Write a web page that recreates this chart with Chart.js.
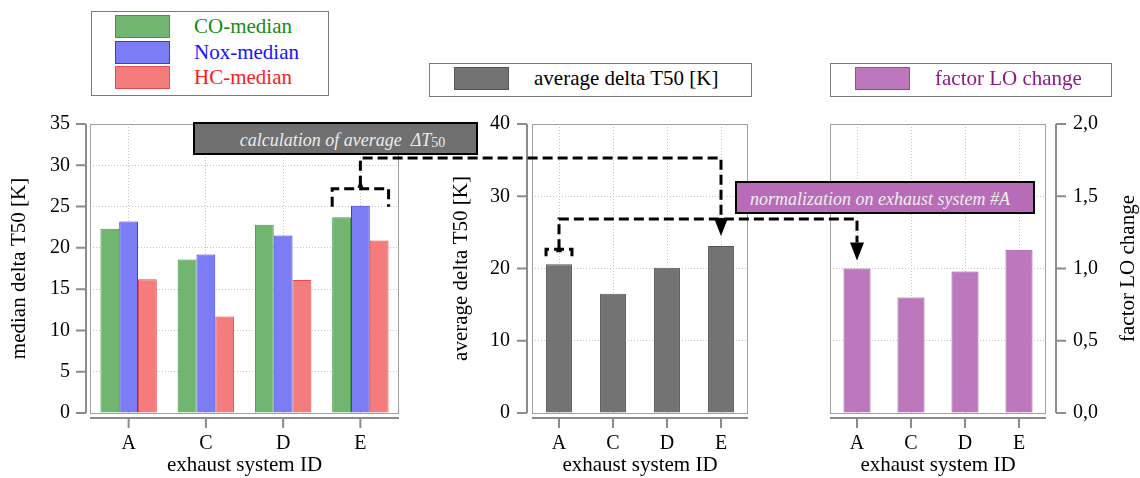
<!DOCTYPE html>
<html>
<head>
<meta charset="utf-8">
<script src="https://cdn.jsdelivr.net/npm/chart.js@4.4.1/dist/chart.umd.min.js"></script>
<style>
  body { margin:0; background:#fff; width:1140px; height:478px; position:relative; overflow:hidden;
         font-family:"Liberation Serif","Times New Roman",serif; }
  canvas.cv { position:absolute; top:110px; }
  #overlay { position:absolute; left:0; top:0; pointer-events:none; }
  .legend { position:absolute; border:1px solid #7a7a7a; background:#fff; box-sizing:border-box; }
  .legend .row { position:absolute; height:24px; }
  .legend .sw { position:absolute; left:0; top:0; width:55px; height:23px; box-sizing:border-box; border:1px solid; }
  .legend .tx { position:absolute; top:-3px; white-space:nowrap; font-size:21px; line-height:28px; }
  .note { position:absolute; box-sizing:border-box; border:2px solid #000; color:#ececec;
          font-style:italic; font-size:18px; display:flex; justify-content:center; align-items:flex-end;
          padding-bottom:2px; white-space:nowrap; }
  .note sub { font-size:14px; vertical-align:-3px; font-style:normal; }
</style>
</head>
<body>
<canvas id="c1" class="cv" width="420" height="368" style="left:0px"></canvas>
<canvas id="c2" class="cv" width="360" height="368" style="left:420px"></canvas>
<canvas id="c3" class="cv" width="360" height="368" style="left:780px"></canvas>
<canvas id="overlay" width="1140" height="478"></canvas>

<div class="legend" id="leg1" style="left:91px;top:11px;width:238px;height:85px;"></div>
<div class="legend" id="leg2" style="left:429px;top:63px;width:323px;height:34px;"></div>
<div class="legend" id="leg3" style="left:830px;top:63px;width:282px;height:34px;"></div>

<div class="note" style="left:193px;top:122px;width:285px;height:33px;background:#707070;padding-left:14px;">
  calculation of average&nbsp;&nbsp;&Delta;<i>T</i><sub>50</sub>
</div>
<div class="note" style="left:735px;top:181px;width:300px;height:33px;background:#b86cb8;padding-right:10px;">
  normalization on exhaust system #A
</div>

<script>
// categories and values
const systems = ['A', 'C', 'D', 'E'];
const coMedian  = [22.3, 18.6, 22.8, 23.7];
const noxMedian = [23.2, 19.2, 21.5, 25.1];
const hcMedian  = [16.2, 11.7, 16.1, 20.9];
const avgDelta  = [20.6, 16.5, 20.1, 23.1];
const factorLO  = [1.0, 0.80, 0.98, 1.13];

const medianLabels = ['CO-median', 'Nox-median', 'HC-median'];
const medianFill   = ['#70b670', '#7c7cf4', '#f57c7c'];
const medianEdge   = ['#3f9a3f', '#3a3ae0', '#e84a4a'];
const medianText   = ['#178a17', '#1414ff', '#ff1a1a'];

const FONT = '"Liberation Serif", "Times New Roman", serif';
const GRID = '#c4c4c4';
const INK = '#000';

// box around the plot area plus detached axis lines with outward ticks
const framePlugin = {
  id: 'frame',
  beforeDatasetsDraw(chart) {
    const { ctx, chartArea: a } = chart;
    ctx.save();
    ctx.strokeStyle = '#a0a0a0';
    ctx.lineWidth = 1;
    ctx.strokeRect(a.left + 0.5, a.top + 0.5, a.right - a.left - 1, a.bottom - a.top);
    ctx.restore();
  },
  afterDraw(chart, args, opts) {
    const { ctx, chartArea: a, scales } = chart;
    const ys = scales.y, xs = scales.x;
    ctx.save();
    ctx.strokeStyle = '#8c8c8c';
    ctx.lineWidth = 2;
    ctx.beginPath();
    const left = opts.side !== 'right';
    const ax = left ? a.left - opts.gap : a.right + opts.gap;
    ctx.moveTo(ax, a.top);
    ctx.lineTo(ax, a.bottom);
    ys.ticks.forEach((t, i) => {
      const y = ys.getPixelForTick(i);
      ctx.moveTo(ax, y);
      ctx.lineTo(left ? ax - 10 : ax + 10, y);
    });
    const ay = a.bottom + 5;
    ctx.moveTo(a.left, ay);
    ctx.lineTo(a.right, ay);
    xs.ticks.forEach((t, i) => {
      const x = xs.getPixelForTick(i);
      ctx.moveTo(x, ay);
      ctx.lineTo(x, ay + 10);
    });
    ctx.stroke();
    if (opts.rightTitle) {
      ctx.fillStyle = INK;
      ctx.font = '21px ' + FONT;
      ctx.textAlign = 'center';
      ctx.textBaseline = 'middle';
      ctx.translate(chart.width - 12, (a.top + a.bottom) / 2);
      ctx.rotate(-Math.PI / 2);
      ctx.fillText(opts.rightTitle, 0, 0);
    }
    ctx.restore();
  }
};

function buildOptions(cfg) {
  return {
    responsive: false,
    animation: false,
    layout: { padding: { left: cfg.padLeft, right: cfg.padRight, top: 14, bottom: 0 } },
    plugins: {
      legend: { display: false },
      tooltip: { enabled: false },
      frame: { side: cfg.side, gap: cfg.gap, rightTitle: cfg.rightTitle || null }
    },
    scales: {
      x: {
        offset: true,
        grid: { offset: false, color: GRID, drawTicks: false },
        border: { display: false, dash: [1, 2] },
        ticks: { padding: 19, color: INK, font: { family: FONT, size: 20 } },
        title: { display: true, text: 'exhaust system ID', color: INK,
                 font: { family: FONT, size: 21 }, padding: { top: 0, bottom: 0 } },
        afterFit: s => { s.height = 65; }
      },
      y: {
        position: cfg.side,
        min: 0, max: cfg.max,
        // invisible tick marks give the label gap without inflating the top margin
        grid: { color: GRID, drawTicks: true, tickLength: cfg.tickPad, tickColor: 'rgba(0,0,0,0)' },
        border: { display: false, dash: [1, 2] },
        ticks: { stepSize: cfg.step, padding: 0, color: INK,
                 font: { family: FONT, size: 20 }, callback: cfg.fmt },
        title: { display: !!cfg.title, text: cfg.title || '', color: INK,
                 font: { family: FONT, size: 21 }, padding: { top: 0, bottom: 0 } },
        afterFit: s => { s.width = cfg.axisWidth; }
      }
    }
  };
}

function init() {
  const c1 = new Chart(document.getElementById('c1'), {
    type: 'bar',
    data: {
      labels: systems,
      datasets: [coMedian, noxMedian, hcMedian].map((vals, i) => ({
        label: medianLabels[i],
        data: vals,
        backgroundColor: medianFill[i],
        borderColor: medianEdge[i],
        borderWidth: 1,
        categoryPercentage: 0.73,
        barPercentage: 1.0
      }))
    },
    options: buildOptions({ padLeft: 7, padRight: 21, axisWidth: 83, side: 'left', gap: 4,
                            max: 35, step: 5, tickPad: 20, title: 'median delta T50 [K]' }),
    plugins: [framePlugin]
  });

  const c2 = new Chart(document.getElementById('c2'), {
    type: 'bar',
    data: {
      labels: systems,
      datasets: [{
        label: 'average delta T50 [K]',
        data: avgDelta,
        backgroundColor: '#737373',
        borderColor: '#555555',
        borderWidth: 1,
        categoryPercentage: 0.48,
        barPercentage: 1.0
      }]
    },
    options: buildOptions({ padLeft: 29, padRight: 32, axisWidth: 83, side: 'left', gap: 5,
                            max: 40, step: 10, tickPad: 22, title: 'average delta T50 [K]' }),
    plugins: [framePlugin]
  });

  const c3 = new Chart(document.getElementById('c3'), {
    type: 'bar',
    data: {
      labels: systems,
      datasets: [{
        label: 'factor LO change',
        data: factorLO,
        backgroundColor: '#bd77bd',
        borderColor: '#9a4a9a',
        borderWidth: 1,
        categoryPercentage: 0.5,
        barPercentage: 1.0
      }]
    },
    options: buildOptions({ padLeft: 50, padRight: 0, axisWidth: 94, side: 'right', gap: 10,
                            max: 2, step: 0.5, tickPad: 27, rightTitle: 'factor LO change',
                            fmt: v => v.toFixed(1).replace('.', ',') }),
    plugins: [framePlugin]
  });

  // legends built from the datasets
  function addLegendRow(box, ds, textColor, top, swLeft, txLeft) {
    const row = document.createElement('div');
    row.className = 'row';
    row.style.top = top + 'px';
    row.style.left = swLeft + 'px';
    row.innerHTML = '<div class="sw" style="background:' + ds.backgroundColor + ';border-color:' +
      ds.borderColor + '"></div><div class="tx" style="left:' + (txLeft - swLeft) + 'px;color:' +
      textColor + '">' + ds.label + '</div>';
    box.appendChild(row);
  }
  const leg1 = document.getElementById('leg1');
  c1.data.datasets.forEach((ds, i) => addLegendRow(leg1, ds, medianText[i], 3 + i * 25.5, 23, 102));
  addLegendRow(document.getElementById('leg2'), c2.data.datasets[0], INK, 3, 24, 104);
  addLegendRow(document.getElementById('leg3'), c3.data.datasets[0], '#8a1a8a', 3, 24, 104);

  // dashed connector arrows, anchored on the charts' own scales
  function barPos(chart, dsIndex, i) {
    const el = chart.getDatasetMeta(dsIndex).data[i];
    const cv = chart.canvas;
    return { x: cv.offsetLeft + el.x, y: cv.offsetTop + el.y, w: el.width };
  }

  const ov = document.getElementById('overlay').getContext('2d');
  ov.strokeStyle = '#000';
  ov.fillStyle = '#000';
  ov.lineWidth = 3;
  ov.setLineDash([10, 5]);

  function bracket(x0, x1, yTop, yLeg) {
    ov.beginPath();
    ov.moveTo(x0, yLeg);
    ov.lineTo(x0, yTop);
    ov.lineTo(x1, yTop);
    ov.lineTo(x1, yLeg);
    ov.stroke();
  }
  function arrowDown(x, tipY) {
    ov.beginPath();
    ov.moveTo(x - 7, tipY - 18);
    ov.lineTo(x + 7, tipY - 18);
    ov.lineTo(x, tipY);
    ov.closePath();
    ov.fill();
  }
  function arrowUp(x, tipY) {
    ov.beginPath();
    ov.moveTo(x - 3, tipY + 8);
    ov.lineTo(x + 3, tipY + 8);
    ov.lineTo(x, tipY);
    ov.closePath();
    ov.fill();
  }

  // 1) group E of the medians -> average bar E
  const gL = barPos(c1, 0, 3), gR = barPos(c1, 2, 3), gM = barPos(c1, 1, 3);
  const legY1 = Math.min(gL.y, gM.y, gR.y) + 1;
  const topY1 = legY1 - 18;
  bracket(gL.x - gL.w / 2, gR.x + gR.w / 2, topY1, legY1);
  arrowUp(gM.x, topY1 - 9);
  const runY1 = 158;
  const avgE = barPos(c2, 0, 3);
  ov.beginPath();
  ov.moveTo(gM.x, topY1 - 3);
  ov.lineTo(gM.x, runY1);
  ov.lineTo(avgE.x, runY1);
  ov.lineTo(avgE.x, avgE.y - 28);
  ov.stroke();
  arrowDown(avgE.x, avgE.y - 10);

  // 2) average bar A -> factor bar A
  const avgA = barPos(c2, 0, 0);
  const legY2 = avgA.y - 8;
  const topY2 = legY2 - 7;
  bracket(avgA.x - avgA.w / 2, avgA.x + avgA.w / 2, topY2, legY2);
  arrowUp(avgA.x, topY2 - 5);
  const runY2 = 219;
  const facA = barPos(c3, 0, 0);
  ov.beginPath();
  ov.moveTo(avgA.x, topY2);
  ov.lineTo(avgA.x, runY2);
  ov.lineTo(facA.x, runY2);
  ov.lineTo(facA.x, facA.y - 26);
  ov.stroke();
  arrowDown(facA.x, facA.y - 8);
}

// canvas text needs the serif face loaded before the charts draw
Promise.all([
  document.fonts.load('20px "Liberation Serif"'),
  document.fonts.load('italic 18px "Liberation Serif"')
]).then(init, init);
</script>
</body>
</html>
